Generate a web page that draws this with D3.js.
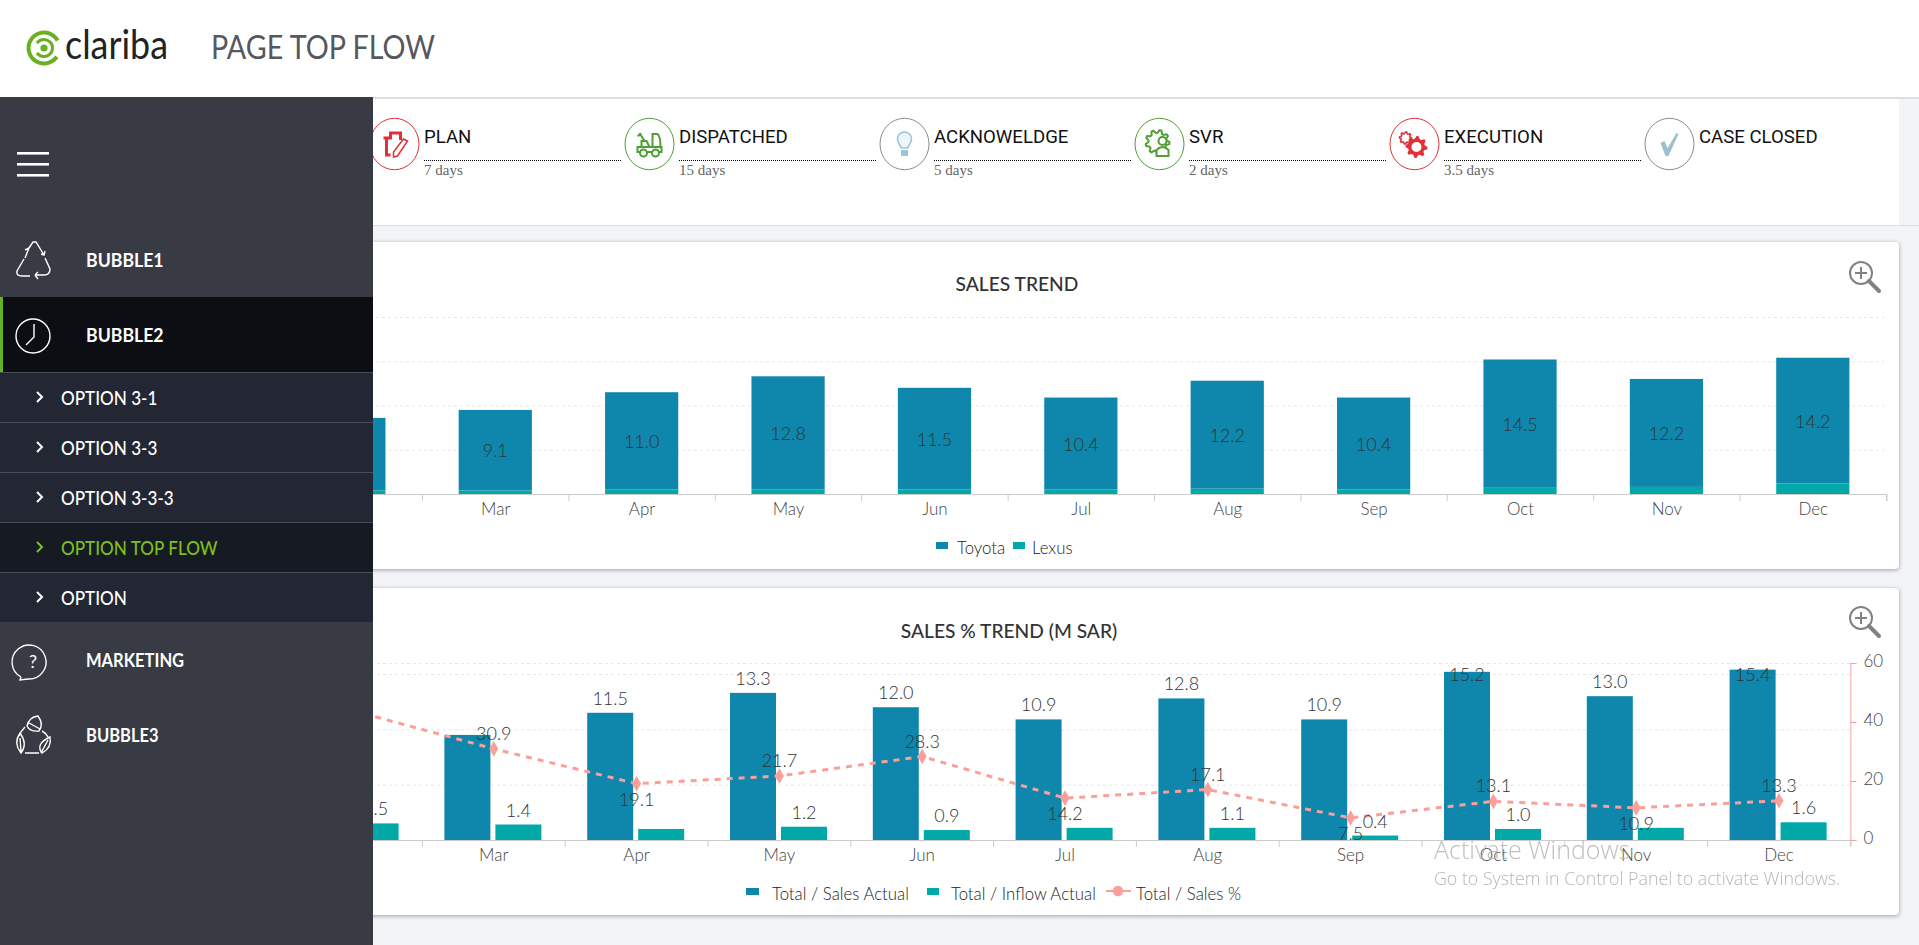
<!DOCTYPE html>
<html>
<head>
<meta charset="utf-8">
<script src="https://cdnjs.cloudflare.com/ajax/libs/d3/7.8.5/d3.min.js"></script>
<style>
  html, body { margin: 0; padding: 0; background: #f3f4f8; overflow: hidden; }
  svg { display: block; }
  text { font-family: Lato, sans-serif; }
  .axis-label { font-size: 17px; font-weight: 300; fill: #444; }
  .bar-label { font-size: 18px; font-weight: 300; fill: #333; text-anchor: middle; dominant-baseline: central; }
  .card { fill: #fff; filter: drop-shadow(0 1px 2px rgba(0, 0, 0, .35)); }
  .title { font-size: 20px; font-weight: 500; fill: #333; text-anchor: middle; dominant-baseline: central; }
  .legend { font-size: 16.8px; font-weight: 300; fill: #222; dominant-baseline: central; }
  .grid line { stroke: #e6e6e6; stroke-dasharray: 3 3; }
  .grid path { display: none; }
  .menu { font-size: 19px; font-weight: 700; fill: #fff; dominant-baseline: central; }
  .step { font-family: Roboto, sans-serif; font-size: 18.6px; fill: #111; dominant-baseline: central; }
  .days { font-family: "Liberation Serif", serif; font-size: 15px; fill: #666; dominant-baseline: central; }
</style>
</head>
<body>
<div id="page"></div>
<script>
const FRAME_WIDTH = 1919;
const FRAME_HEIGHT = 945;
const SIDE_WIDTH = 373;

const BLUE = "#0f87ac";
const TEAL = "#00a8a8";
const PINK = "#f9a09a";
const RED = "#df3138";
const GREEN = "#4f9f35";

// chart data (Jan is behind the menu, its values are a guess)
const months = ["Jan", "Feb", "Mar", "Apr", "May", "Jun", "Jul", "Aug", "Sep", "Oct", "Nov", "Dec"];
const toyota = [8.5, 8.2, 9.1, 11.0, 12.8, 11.5, 10.4, 12.2, 10.4, 14.5, 12.2, 14.2];
const lexus = [0.4, 0.4, 0.4, 0.5, 0.5, 0.5, 0.5, 0.6, 0.5, 0.7, 0.8, 1.2];
const salesActual = [8.9, 8.6, 9.5, 11.5, 13.3, 12.0, 10.9, 12.8, 10.9, 15.2, 13.0, 15.4];
const inflowActual = [1.3, 1.5, 1.4, 1.0, 1.2, 0.9, 1.1, 1.1, 0.4, 1.0, 1.1, 1.6];
const salesPct = [42.0, 44.0, 30.9, 19.1, 21.7, 28.3, 14.2, 17.1, 7.5, 13.1, 10.9, 13.3];

// labels the chart library dropped in the reference
const hiddenSalesLabels = ["Mar"];
const hiddenInflowLabels = ["Apr", "Jul", "Nov"];
const pctLabelsBelow = ["Apr", "Jul", "Sep", "Nov"];

const flowSteps = ["PLAN", "DISPATCHED", "ACKNOWELDGE", "SVR", "EXECUTION", "CASE CLOSED"];
const flowDays = ["7 days", "15 days", "5 days", "2 days", "3.5 days", ""];
const flowColors = [RED, GREEN, "#8c8c8c", GREEN, RED, "#8c8c8c"];

const menuTop = ["BUBBLE1", "BUBBLE2"];
const menuSub = ["OPTION 3-1", "OPTION 3-3", "OPTION 3-3-3", "OPTION TOP FLOW", "OPTION"];
const menuBottom = ["MARKETING", "BUBBLE3"];

const FRAME = d3.select("#page").append("svg")
  .attr("width", FRAME_WIDTH)
  .attr("height", FRAME_HEIGHT);

// the original font is narrower than anything installed
function squeeze(selection, k) {
  selection.each(function() {
    const len = this.getComputedTextLength();
    d3.select(this).attr("textLength", len * k).attr("lengthAdjust", "spacingAndGlyphs");
  });
}

// page background panels
FRAME.append("rect").attr("x", 0).attr("y", 0).attr("width", FRAME_WIDTH).attr("height", 97).attr("fill", "#fff");
FRAME.append("rect").attr("x", 0).attr("y", 97).attr("width", FRAME_WIDTH).attr("height", 2).attr("fill", "#dedede");
FRAME.append("rect").attr("x", 0).attr("y", 99).attr("width", 1899).attr("height", 126).attr("fill", "#fff");
FRAME.append("rect").attr("x", 0).attr("y", 225).attr("width", FRAME_WIDTH).attr("height", 1).attr("fill", "#dcdde2");

// header
function draw_logo() {
  const g = FRAME.append("g").attr("transform", "translate(44,48)");
  const outer = d3.arc()({innerRadius: 13.5, outerRadius: 17.5, startAngle: 0.6, endAngle: Math.PI * 2 - 0.5});
  g.append("path").attr("d", outer).attr("transform", "rotate(90)").attr("fill", "#6ab023");
  const inner = d3.arc()({innerRadius: 7, outerRadius: 10, startAngle: 0.6, endAngle: Math.PI * 2 - 0.6});
  g.append("path").attr("d", inner).attr("transform", "rotate(270)").attr("fill", "#6ab023");
  g.append("circle").attr("r", 3.6).attr("fill", "#6ab023");
  FRAME.append("text").attr("x", 65).attr("y", 59)
    .attr("font-size", 41).attr("font-weight", 400).attr("fill", "#222")
    .attr("textLength", 103).attr("lengthAdjust", "spacingAndGlyphs").text("clariba");
  FRAME.append("text").attr("x", 211).attr("y", 59)
    .attr("font-size", 32).attr("font-weight", 400).attr("fill", "#55585f")
    .attr("textLength", 224).attr("lengthAdjust", "spacingAndGlyphs").text("PAGE TOP FLOW");
}
draw_logo();

// gear outline used by a couple of the flow icons
function gear_path(r, teeth) {
  const pts = [];
  for (let i = 0; i < teeth * 4; i++) {
    const a = i / (teeth * 4) * Math.PI * 2;
    const rr = (i % 4 === 0 || i % 4 === 1) ? r : r * 0.76;
    pts.push([Math.cos(a) * rr, Math.sin(a) * rr]);
  }
  return d3.line().curve(d3.curveLinearClosed)(pts);
}

const flowIcons = [
  (g) => {
    g.append("path").attr("d", "M-11,-6 L-4,-6 L-4,-11 L6,-11 L6,-4 M-8,-6 L-8,11 L-4,11").attr("fill", "none").attr("stroke", RED).attr("stroke-width", 3);
    g.append("path").attr("d", "M9,-5 L13,-3 L3,12 L-1,13 L-1,8 Z").attr("fill", "none").attr("stroke", RED).attr("stroke-width", 1.5);
  },
  (g) => {
    g.append("path").attr("d", "M-12,3 H12 V8 H-12 Z M-8,3 V-3 H-3 L0,3 M3,3 V-10 H8 Q11,-8 11,3 M-10,-11 L-5,-3 M-12,-8 L-8,-10").attr("fill", "none").attr("stroke", GREEN).attr("stroke-width", 2);
    g.append("circle").attr("cx", -6).attr("cy", 9).attr("r", 3.5).attr("fill", "#fff").attr("stroke", GREEN).attr("stroke-width", 2);
    g.append("circle").attr("cx", 6).attr("cy", 9).attr("r", 3.5).attr("fill", "#fff").attr("stroke", GREEN).attr("stroke-width", 2);
  },
  (g) => {
    g.append("path").attr("d", "M-3,4 Q-7,-2 -7,-5 A7,7 0 1 1 7,-5 Q7,-2 3,4 Z").attr("fill", "#eef5f8").attr("stroke", "#9cc4d6").attr("stroke-width", 1.6);
    g.append("rect").attr("x", -3.5).attr("y", 6).attr("width", 7).attr("height", 6).attr("fill", "#9cc4d6");
  },
  (g) => {
    g.append("path").attr("d", gear_path(12, 9)).attr("transform", "translate(-2,-2)").attr("fill", "none").attr("stroke", GREEN).attr("stroke-width", 2);
    g.append("circle").attr("cx", 3).attr("cy", -3).attr("r", 4).attr("fill", "#fff").attr("stroke", GREEN).attr("stroke-width", 2);
    g.append("path").attr("d", "M-3,12 V6 Q3,0 9,6 V12 Z").attr("fill", "#fff").attr("stroke", GREEN).attr("stroke-width", 2);
  },
  (g) => {
    g.append("path").attr("d", gear_path(6, 8)).attr("transform", "translate(-9,-6)").attr("fill", "none").attr("stroke", RED).attr("stroke-width", 1.6);
    g.append("path").attr("d", gear_path(11, 8)).attr("transform", "translate(2,3)").attr("fill", RED);
    g.append("circle").attr("cx", 2).attr("cy", 3).attr("r", 5).attr("fill", "#fff");
  },
  (g) => {
    g.append("path").attr("d", "M-9,-1 L-5,-3 L-2,4 L7,-11 L9,-10 L-1,12 L-4,12 Z").attr("fill", "#9cc0cf");
  }
];

// flow steps
flowSteps.forEach((name, i) => {
  const cx = 394.5 + i * 255;
  const g = FRAME.append("g").attr("transform", "translate(" + cx + ",144)");
  g.append("ellipse").attr("rx", 24.5).attr("ry", 25.7).attr("fill", "#fff").attr("stroke", flowColors[i]);
  flowIcons[i](g);
  FRAME.append("text").attr("class", "step").attr("x", cx + 29.5).attr("y", 136.5).text(name);
  if (flowDays[i] !== "") {
    FRAME.append("line").attr("x1", cx + 29.5).attr("x2", cx + 227.5).attr("y1", 160.5).attr("y2", 160.5)
      .attr("stroke", "#000").attr("stroke-dasharray", "1 1");
    FRAME.append("text").attr("class", "days").attr("x", cx + 29.5).attr("y", 170).text(flowDays[i]);
  }
});

function draw_zoom_icon(cy) {
  const g = FRAME.append("g").attr("transform", "translate(1861," + cy + ")").attr("stroke", "#808285").attr("fill", "none");
  g.append("circle").attr("r", 11).attr("stroke-width", 2);
  g.append("path").attr("d", "M-6,0 H6 M0,-6 V6").attr("stroke-width", 2);
  g.append("path").attr("d", "M8,8 L18,18").attr("stroke-width", 4).attr("stroke-linecap", "round");
}

// shared x axis: ticks sit on the band edges
function draw_x_axis(x, y0) {
  const step = x.step();
  const axis = FRAME.append("g").attr("transform", "translate(0," + y0 + ")")
    .call(d3.axisBottom(x).tickSize(7).tickPadding(2));
  axis.select(".domain").attr("stroke", "#ccc");
  axis.selectAll(".tick line").attr("x1", -step / 2).attr("x2", -step / 2).attr("stroke", "#ccc");
  axis.append("line").attr("x1", x.range()[1]).attr("x2", x.range()[1]).attr("y1", 0).attr("y2", 7).attr("stroke", "#ccc");
  axis.selectAll(".tick text").attr("class", "axis-label").attr("font-family", null).attr("font-size", null).attr("fill", null);
}

function draw_grid(y, values, x0, x1) {
  return FRAME.append("g").attr("class", "grid").attr("transform", "translate(" + x0 + ",0)")
    .call(d3.axisLeft(y).tickValues(values).tickSize(-(x1 - x0)).tickFormat(""));
}

// ---- sales trend ----
function build_sales_trend() {
  FRAME.append("rect").attr("class", "card").attr("x", 0).attr("y", 242).attr("width", 1899).attr("height", 327).attr("rx", 4);
  FRAME.append("text").attr("class", "title").attr("x", 1017).attr("y", 283).text("SALES TREND").call(squeeze, .96);
  draw_zoom_icon(273);

  const X = d3.scaleBand().domain(months).range([129.3, 1886]).paddingInner(0.5).paddingOuter(0.25);
  const Y = d3.scaleLinear().domain([0, 20]).range([494, 317]);

  draw_grid(Y, [5, 10, 15, 20], 130, 1884);

  FRAME.append("g").selectAll("rect").data(months).enter().append("rect")
    .attr("x", (d) => X(d)).attr("width", X.bandwidth())
    .attr("y", (d, i) => Y(toyota[i] + lexus[i]))
    .attr("height", (d, i) => Y(0) - Y(toyota[i]))
    .attr("fill", BLUE);
  FRAME.append("g").selectAll("rect").data(months).enter().append("rect")
    .attr("x", (d) => X(d)).attr("width", X.bandwidth())
    .attr("y", (d, i) => Y(lexus[i]))
    .attr("height", (d, i) => Y(0) - Y(lexus[i]))
    .attr("fill", TEAL);

  FRAME.append("g").selectAll("text").data(months).enter().append("text")
    .attr("class", "bar-label")
    .attr("x", (d) => X(d) + X.bandwidth() / 2)
    .attr("y", (d, i) => Y(lexus[i] + toyota[i] / 2))
    .text((d, i) => toyota[i].toFixed(1));

  const XA = d3.scaleBand().domain(months).range([129.7, 1886.5]);
  draw_x_axis(XA, 494);

  FRAME.append("rect").attr("x", 936).attr("y", 542).attr("width", 12).attr("height", 7).attr("fill", BLUE);
  FRAME.append("text").attr("class", "legend").attr("x", 957).attr("y", 547).text("Toyota");
  FRAME.append("rect").attr("x", 1013).attr("y", 542).attr("width", 12).attr("height", 7).attr("fill", TEAL);
  FRAME.append("text").attr("class", "legend").attr("x", 1032).attr("y", 547).text("Lexus");
}

// ---- sales % trend ----
function build_sales_pct_trend() {
  FRAME.append("rect").attr("class", "card").attr("x", 0).attr("y", 588).attr("width", 1899).attr("height", 327).attr("rx", 4);
  FRAME.append("text").attr("class", "title").attr("x", 1009).attr("y", 630).text("SALES % TREND (M SAR)").call(squeeze, .96);
  draw_zoom_icon(618);

  const X = d3.scaleBand().domain(months).range([136.8, 1850.4]);
  const BAR = d3.scaleBand().domain(["sales", "inflow"]).range([22, 119]).paddingInner(0.098);
  const Y = d3.scaleLinear().domain([0, 16]).range([840, 663]);
  const Y_PCT = d3.scaleLinear().domain([0, 60]).range([840, 663]);

  draw_grid(Y, [5, 10, 15, 16], 137, 1850);

  FRAME.append("g").selectAll("rect").data(months).enter().append("rect")
    .attr("x", (d) => X(d) + BAR("sales")).attr("width", BAR.bandwidth())
    .attr("y", (d, i) => Y(salesActual[i]))
    .attr("height", (d, i) => Y(0) - Y(salesActual[i]))
    .attr("fill", BLUE);
  FRAME.append("g").selectAll("rect").data(months).enter().append("rect")
    .attr("x", (d) => X(d) + BAR("inflow")).attr("width", BAR.bandwidth())
    .attr("y", (d, i) => Y(inflowActual[i]))
    .attr("height", (d, i) => Y(0) - Y(inflowActual[i]))
    .attr("fill", TEAL);

  const center = (d) => X(d) + X.bandwidth() / 2;
  const line = d3.line().x((d) => center(d)).y((d, i) => Y_PCT(salesPct[i]));
  FRAME.append("path").attr("d", line(months)).attr("fill", "none")
    .attr("stroke", PINK).attr("stroke-width", 3).attr("stroke-dasharray", "6 6");
  FRAME.append("g").selectAll("path").data(months).enter().append("path")
    .attr("d", d3.symbol(d3.symbolDiamond, 70))
    .attr("transform", (d, i) => "translate(" + center(d) + "," + Y_PCT(salesPct[i]) + ")")
    .attr("fill", PINK);

  // value labels
  months.forEach((m, i) => {
    if (!hiddenSalesLabels.includes(m)) {
      FRAME.append("text").attr("class", "bar-label")
        .attr("x", X(m) + BAR("sales") + BAR.bandwidth() / 2)
        .attr("y", Math.max(674, Y(salesActual[i]) - 15))
        .text(salesActual[i].toFixed(1));
    }
    if (!hiddenInflowLabels.includes(m)) {
      FRAME.append("text").attr("class", "bar-label")
        .attr("x", X(m) + BAR("inflow") + BAR.bandwidth() / 2)
        .attr("y", Y(inflowActual[i]) - 15)
        .text(inflowActual[i].toFixed(1));
    }
    FRAME.append("text").attr("class", "bar-label")
      .attr("x", center(m))
      .attr("y", Y_PCT(salesPct[i]) + (pctLabelsBelow.includes(m) ? 15 : -16))
      .text(salesPct[i].toFixed(1));
  });

  draw_x_axis(X, 840);

  // right axis for the percentage line
  const right = FRAME.append("g").attr("transform", "translate(1850.4,0)")
    .call(d3.axisRight(Y_PCT).tickValues([0, 20, 40, 60]).tickSize(6).tickPadding(7));
  right.select(".domain").attr("stroke", PINK);
  right.selectAll(".tick line").attr("stroke", PINK);
  right.selectAll(".tick text").attr("class", "axis-label").attr("font-family", null).attr("font-size", null).attr("fill", null).attr("dy", "0.2em");

  FRAME.append("rect").attr("x", 746).attr("y", 888).attr("width", 13).attr("height", 7).attr("fill", BLUE);
  FRAME.append("text").attr("class", "legend").attr("x", 772).attr("y", 893).text("Total / Sales Actual");
  FRAME.append("rect").attr("x", 927).attr("y", 888).attr("width", 12).attr("height", 7).attr("fill", TEAL);
  FRAME.append("text").attr("class", "legend").attr("x", 951).attr("y", 893).text("Total / Inflow Actual");
  FRAME.append("line").attr("x1", 1106).attr("x2", 1131).attr("y1", 891).attr("y2", 891).attr("stroke", PINK).attr("stroke-width", 2);
  FRAME.append("path").attr("d", d3.symbol(d3.symbolCircle, 85)).attr("transform", "translate(1118,891)").attr("fill", PINK);
  FRAME.append("text").attr("class", "legend").attr("x", 1136).attr("y", 893).text("Total / Sales %");
}

build_sales_trend();
build_sales_pct_trend();

// ---- side menu sits on top of both charts ----
function build_menu() {
  const side = FRAME.append("g");
  side.append("rect").attr("x", 0).attr("y", 97).attr("width", SIDE_WIDTH).attr("height", 848).attr("fill", "#383b44");
  [153, 164, 175].forEach((y) => {
    side.append("rect").attr("x", 17).attr("y", y - 1).attr("width", 32).attr("height", 2.6).attr("fill", "#fff");
  });

  side.append("rect").attr("x", 0).attr("y", 297).attr("width", SIDE_WIDTH).attr("height", 75).attr("fill", "#0c0e13");
  side.append("rect").attr("x", 0).attr("y", 297).attr("width", 3).attr("height", 75).attr("fill", "#6ab023");

  side.selectAll(".top").data(menuTop).enter().append("text").attr("class", "menu")
    .attr("x", 86).attr("y", (d, i) => 259 + i * 75).text((d) => d).call(squeeze, .93);
  side.selectAll(".bottom").data(menuBottom).enter().append("text").attr("class", "menu")
    .attr("x", 86).attr("y", (d, i) => 659 + i * 75).text((d) => d).call(squeeze, .87);

  menuSub.forEach((name, i) => {
    const top = 372 + i * 50;
    const active = name === "OPTION TOP FLOW";
    side.append("rect").attr("x", 0).attr("y", top).attr("width", SIDE_WIDTH).attr("height", 50).attr("fill", active ? "#161a22" : "#232733");
    side.append("rect").attr("x", 0).attr("y", top).attr("width", SIDE_WIDTH).attr("height", 1).attr("fill", "#4a4d57");
    side.append("path").attr("d", "M37," + (top + 20) + " L42," + (top + 25) + " L37," + (top + 30))
      .attr("fill", "none").attr("stroke", active ? "#7fbf1f" : "#fff").attr("stroke-width", 2);
    side.append("text").attr("class", "menu").attr("x", 61).attr("y", top + 25)
      .style("font-weight", 500).style("fill", active ? "#7fbf1f" : "#fff").text(name).call(squeeze, .9);
  });

  // line icons
  const icon = (x, y) => side.append("g").attr("transform", "translate(" + x + "," + y + ")")
    .attr("fill", "none").attr("stroke", "#fff").attr("stroke-width", 1.4);
  icon(33, 260).append("path").attr("d", "M-4,-12 L0,-18 L3,-18 L11,-5 M8,-6 L11,-5 L12,-9 M-8,-2 L-4,-12 L-8,-10 M-9,-1 L-16,11 Q-17,16 -11,16 L-3,16 M12,-2 L17,9 Q17,15 11,15 L2,15 M2,15 L5,12 M2,15 L5,19");
  const clock = icon(33, 336);
  clock.append("circle").attr("r", 17);
  clock.append("path").attr("d", "M1,-12 V1 L-7,9");
  const bubble = icon(33, 662);
  bubble.append("path").attr("d", "M-12,15 A17,17 0 1 1 -5,17 L-13,18 L-12,15");
  bubble.append("text").attr("x", 0).attr("y", 6).attr("text-anchor", "middle").attr("font-size", 18).attr("fill", "#fff").attr("stroke", "none").text("?");
  const leaf = icon(33, 735);
  leaf.append("path").attr("d", "M-6,-9 Q-4,-18 5,-19 Q11,-11 6,-4 Q-3,-3 -6,-9 Z M-4,-12 L7,-6");
  leaf.append("path").attr("d", "M-13,-2 Q-20,8 -12,18 Q-5,9 -13,-2 Z M-13,3 L-12,17");
  leaf.append("path").attr("d", "M17,2 Q19,13 9,18 Q2,9 17,2 Z M15,5 L8,18");
  leaf.append("path").attr("d", "M-8,-8 Q-12,-4 -14,1 M9,-4 Q13,-2 15,2 M-8,18 L6,18");
}
build_menu();

// windows watermark from the screenshot
FRAME.append("text").attr("x", 1434).attr("y", 859).attr("font-size", 25)
  .style("font-family", "'Open Sans', sans-serif").attr("font-weight", 300).attr("fill", "#aaa").attr("opacity", .75).text("Activate Windows");
FRAME.append("text").attr("x", 1434).attr("y", 885).attr("font-size", 17.8)
  .style("font-family", "'Open Sans', sans-serif").attr("font-weight", 300).attr("fill", "#aaa").attr("opacity", .85).text("Go to System in Control Panel to activate Windows.");
</script>
</body>
</html>
